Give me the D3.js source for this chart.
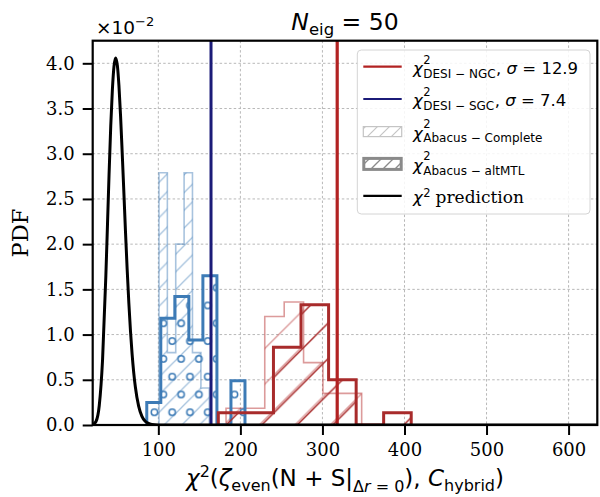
<!DOCTYPE html>
<html><head><meta charset="utf-8">
<script src="https://cdn.jsdelivr.net/npm/d3@7"></script>
<style>
html,body{margin:0;padding:0;background:#fff;}
svg text{white-space:pre;}
</style></head>
<body>
<svg id="chart" width="600" height="497"></svg>
<script>
// ---------------- data (PDF values in units of 1e-2) ----------------
const sgcCompleteEdges = [100.8, 111.0, 121.2, 131.4, 141.6, 151.9, 162.1];
const sgcCompleteHeights = [2.79, 0.80, 2.00, 2.79, 0.80, 0.41];
const sgcAltmtlEdges = [85.9, 103.0, 120.1, 137.2, 154.3, 171.4, 188.5, 205.6];
const sgcAltmtlHeights = [0.25, 1.18, 1.42, 0.94, 1.65, 0, 0.49];
const ngcCompleteEdges = [182.5, 206.1, 229.7, 253.4, 277.0, 300.6, 324.2, 347.8];
const ngcCompleteHeights = [0.185, 0.185, 1.20, 1.36, 0.69, 0.35, 0.35];
const ngcAltmtlEdges = [173.1, 206.7, 240.3, 273.9, 307.5, 341.1, 374.6, 408.2];
const ngcAltmtlHeights = [0.135, 0.135, 0.86, 1.33, 0.50, 0, 0.135];
const desiNgc = 318.0;
const desiSgc = 164.2;
const predX = [20, 24, 28, 32, 36, 38, 40, 42, 44, 46, 48, 50, 52, 54, 56, 58, 60, 62, 64, 66, 68, 70, 72, 76, 80, 84, 88, 92, 100, 120, 200, 400, 640];
const predY = [0.004, 0.039, 0.216, 0.719, 1.643, 2.21, 2.79, 3.31, 3.71, 3.97, 4.06, 3.98, 3.75, 3.41, 3.00, 2.57, 2.13, 1.722, 1.357, 1.045, 0.787, 0.580, 0.420, 0.208, 0.096, 0.042, 0.017, 0.007, 0.001, 0, 0, 0, 0];
const xTicks = [100, 200, 300, 400, 500, 600];
const yTicks = [0, 0.5, 1.0, 1.5, 2.0, 2.5, 3.0, 3.5, 4.0];
const legendLabels = [
  {sub: "DESI \u2212 NGC", rest: "12.9"},
  {sub: "DESI \u2212 SGC", rest: "7.4"},
  {sub: "Abacus \u2212 Complete"},
  {sub: "Abacus \u2212 altMTL"},
  {pred: "prediction"}
];

// ---------------- layout ----------------
const P = {l: 92.7, r: 597.3, t: 40.7, b: 425};
const x = d3.scaleLinear().domain([20, 635]).range([P.l, P.r]);
const y = d3.scaleLinear().domain([0, 4.25]).range([P.b, P.t]);
const svg = d3.select("#chart");
const SANS = "'DejaVu Sans', sans-serif";
const SERIF = "'DejaVu Serif', serif";

const BLUE = "#3d7bb6", RED_H = "#a82b2b", RED_L = "#b22222", NAVY = "#1b1b78";

const defs = svg.append("defs");
defs.append("clipPath").attr("id", "clip").append("rect")
  .attr("x", P.l).attr("y", P.t).attr("width", P.r - P.l).attr("height", P.b - P.t);

function hatch(id, period, color, width, opacity, shift) {
  const p = defs.append("pattern").attr("id", id).attr("patternUnits", "userSpaceOnUse")
    .attr("width", period).attr("height", period)
    .attr("patternTransform", `translate(${shift},0)`);
  const g = p.append("g").attr("stroke", color).attr("stroke-width", width).attr("stroke-opacity", opacity);
  g.append("line").attr("x1", 0).attr("y1", period).attr("x2", period).attr("y2", 0);
  g.append("line").attr("x1", -2).attr("y1", 2).attr("x2", 2).attr("y2", -2);
  g.append("line").attr("x1", period - 2).attr("y1", period + 2).attr("x2", period + 2).attr("y2", period - 2);
}
hatch("hBlueL", 17.7, BLUE, 1.3, 0.45, 5);
hatch("hRedL", 35.5, RED_L, 1.4, 0.45, 9.8);
hatch("hRedH", 35.5, RED_H, 1.5, 1, 12.2);
hatch("hLegL", 12, "#c4c4c4", 1.2, 1, 0);
hatch("hLegH", 12, "#8a8a8a", 1.3, 1, 0);
{
  const cw = 17.8, ch = 35.6;
  const p = defs.append("pattern").attr("id", "hCirc").attr("patternUnits", "userSpaceOnUse")
    .attr("width", cw).attr("height", ch)
    .attr("patternTransform", "translate(-1.35,-6)");
  [[cw / 4, ch / 4], [cw * 3 / 4, ch * 3 / 4]].forEach(([cx, cy]) => {
    p.append("circle").attr("cx", cx).attr("cy", cy).attr("r", 3.2)
      .attr("fill", "none").attr("stroke", BLUE).attr("stroke-width", 1.5);
  });
}

// ---------------- grid ----------------
const grid = svg.append("g").attr("stroke", "#b8b8b8").attr("stroke-width", 1).attr("stroke-dasharray", "2.5,2.2");
xTicks.forEach(v => grid.append("line").attr("x1", x(v)).attr("x2", x(v)).attr("y1", P.t).attr("y2", P.b));
yTicks.filter(v => v > 0).forEach(v => grid.append("line").attr("x1", P.l).attr("x2", P.r).attr("y1", y(v)).attr("y2", y(v)));

// ---------------- histograms ----------------
function stepPath(edges, h) {
  let p = `M${x(edges[0])},${y(0)}`;
  for (let i = 0; i < h.length; i++) p += `L${x(edges[i])},${y(h[i])}L${x(edges[i + 1])},${y(h[i])}`;
  p += `L${x(edges[edges.length - 1])},${y(0)}`;
  return p;
}
const plot = svg.append("g").attr("clip-path", "url(#clip)");
function hist(edges, h, fillPat, stroke, sw, so) {
  plot.append("path").attr("d", stepPath(edges, h) + "Z").attr("fill", `url(#${fillPat})`).attr("stroke", "none");
  plot.append("path").attr("d", stepPath(edges, h)).attr("fill", "none")
    .attr("stroke", stroke).attr("stroke-width", sw).attr("stroke-opacity", so).attr("stroke-linejoin", "miter");
}
hist(sgcCompleteEdges, sgcCompleteHeights, "hBlueL", BLUE, 1.6, 0.45);
hist(ngcCompleteEdges, ngcCompleteHeights, "hRedL", RED_L, 1.6, 0.45);
hist(sgcAltmtlEdges, sgcAltmtlHeights, "hCirc", BLUE, 3, 1);
hist(ngcAltmtlEdges, ngcAltmtlHeights, "hRedH", RED_H, 3, 1);

plot.append("line").attr("x1", x(desiNgc)).attr("x2", x(desiNgc)).attr("y1", P.t).attr("y2", P.b)
  .attr("stroke", RED_L).attr("stroke-width", 3.2);
plot.append("line").attr("x1", x(desiSgc)).attr("x2", x(desiSgc)).attr("y1", P.t).attr("y2", P.b)
  .attr("stroke", NAVY).attr("stroke-width", 3);

const line = d3.line().x((d, i) => x(predX[i])).y(d => y(d)).curve(d3.curveMonotoneX);
plot.append("path").attr("d", line(predY)).attr("fill", "none").attr("stroke", "#000").attr("stroke-width", 3);

// ---------------- axes ----------------
const xAxis = svg.append("g").attr("transform", `translate(0,${P.b})`)
  .call(d3.axisBottom(x).tickValues(xTicks).tickSize(10).tickPadding(8).tickFormat(d3.format("d")));
const yAxis = svg.append("g").attr("transform", `translate(${P.l},0)`)
  .call(d3.axisLeft(y).tickValues(yTicks).tickSize(10).tickPadding(8).tickFormat(d3.format(".1f")));
[xAxis, yAxis].forEach(a => {
  a.select(".domain").remove();
  a.selectAll(".tick line").attr("stroke", "#000").attr("stroke-width", 2);
  a.selectAll(".tick text").attr("fill", "#000").style("font-family", SERIF).style("font-size", "18px");
});
svg.append("rect").attr("x", P.l).attr("y", P.t).attr("width", P.r - P.l).attr("height", P.b - P.t)
  .attr("fill", "none").attr("stroke", "#000").attr("stroke-width", 2.2);

// offset text
const off = svg.append("text").attr("x", 96).attr("y", 34.3).style("font-family", SANS).style("font-size", "18.5px").text("\u00d710");
off.append("tspan").attr("dy", -8).style("font-size", "13px").text("\u22122");

// title
const title = svg.append("text").attr("x", 345).attr("y", 30).attr("text-anchor", "middle")
  .style("font-family", SANS).style("font-size", "23.5px");
title.append("tspan").style("font-style", "italic").text("N");
title.append("tspan").attr("dy", 4.5).style("font-size", "16.5px").text("eig");
title.append("tspan").attr("dy", -4.5).text(" = 50");

// y label
svg.append("text").attr("transform", "translate(28,233) rotate(-90)").attr("text-anchor", "middle")
  .style("font-family", SERIF).style("font-size", "22.5px").text("PDF");

// x label
const xl = svg.append("text").attr("x", 345).attr("y", 486).attr("text-anchor", "middle")
  .style("font-family", SANS).style("font-size", "23px");
const S = "16px";
xl.append("tspan").style("font-style", "italic").text("\u03c7");
xl.append("tspan").attr("dy", -9.5).style("font-size", S).text("2");
xl.append("tspan").attr("dy", 9.5).text("(");
xl.append("tspan").style("font-style", "italic").text("\u03b6");
xl.append("tspan").attr("dy", 4.5).style("font-size", S).text("even");
xl.append("tspan").attr("dy", -4.5).text("(N + S|");
xl.append("tspan").attr("dy", 5.5).style("font-size", S).text("\u0394");
xl.append("tspan").style("font-size", S).style("font-style", "italic").text("r");
xl.append("tspan").style("font-size", S).text(" = 0");
xl.append("tspan").attr("dy", -5.5).text("), ");
xl.append("tspan").style("font-style", "italic").text("C");
xl.append("tspan").attr("dy", 4.5).style("font-size", S).text("hybrid");
xl.append("tspan").attr("dy", -4.5).text(")");

// ---------------- legend ----------------
const lg = svg.append("g");
lg.append("rect").attr("x", 357.3).attr("y", 50).attr("width", 232.7).attr("height", 164).attr("rx", 4)
  .attr("fill", "#fff").attr("fill-opacity", 0.85).attr("stroke", "#d4d4d4").attr("stroke-width", 1);
const baselines = [74, 106.3, 138.6, 170.9, 203.2];
const hx0 = 363.3, hx1 = 401.7, tx = 413;
// handles
lg.append("line").attr("x1", hx0).attr("x2", hx1).attr("y1", baselines[0] - 7.3).attr("y2", baselines[0] - 7.3).attr("stroke", RED_L).attr("stroke-width", 2.2);
lg.append("line").attr("x1", hx0).attr("x2", hx1).attr("y1", baselines[1] - 7.3).attr("y2", baselines[1] - 7.3).attr("stroke", NAVY).attr("stroke-width", 2.2);
lg.append("rect").attr("x", hx0).attr("y", baselines[2] - 12).attr("width", hx1 - hx0).attr("height", 10)
  .attr("fill", "url(#hLegL)").attr("stroke", "#c4c4c4").attr("stroke-width", 1.2);
lg.append("rect").attr("x", hx0 + 0.5).attr("y", baselines[3] - 12.5).attr("width", hx1 - hx0 - 1).attr("height", 11)
  .attr("fill", "url(#hLegH)").attr("stroke", "#8a8a8a").attr("stroke-width", 3);
lg.append("line").attr("x1", hx0).attr("x2", hx1).attr("y1", baselines[4] - 7.3).attr("y2", baselines[4] - 7.3).attr("stroke", "#000").attr("stroke-width", 2.2);

legendLabels.forEach((L, i) => {
  const yb = baselines[i];
  const chi = lg.append("text").attr("x", tx).attr("y", yb).style("font-family", SANS).style("font-size", "16.5px").style("font-style", "italic").text("\u03c7");
  const xs = tx + chi.node().getComputedTextLength() + 0.5;
  const sup = lg.append("text").attr("x", xs).attr("y", yb - (L.pred ? 6.5 : 10.5)).style("font-family", SANS).style("font-size", "11.5px").text("2");
  let w = sup.node().getComputedTextLength();
  if (L.sub) {
    const sb = lg.append("text").attr("x", xs).attr("y", yb + 3.7).style("font-family", SANS).style("font-size", "12px").text(L.sub);
    w = Math.max(w, sb.node().getComputedTextLength());
  }
  if (L.rest) {
    const r = lg.append("text").attr("x", xs + w + 0.5).attr("y", yb).style("font-family", SANS).style("font-size", "16.5px");
    r.append("tspan").text(", ");
    r.append("tspan").style("font-style", "italic").text("\u03c3");
    r.append("tspan").text(" = " + L.rest);
  }
  if (L.pred) {
    lg.append("text").attr("x", xs + w + 5).attr("y", yb).style("font-family", SERIF).style("font-size", "17px").text(L.pred);
  }
});
</script>
</body></html>
